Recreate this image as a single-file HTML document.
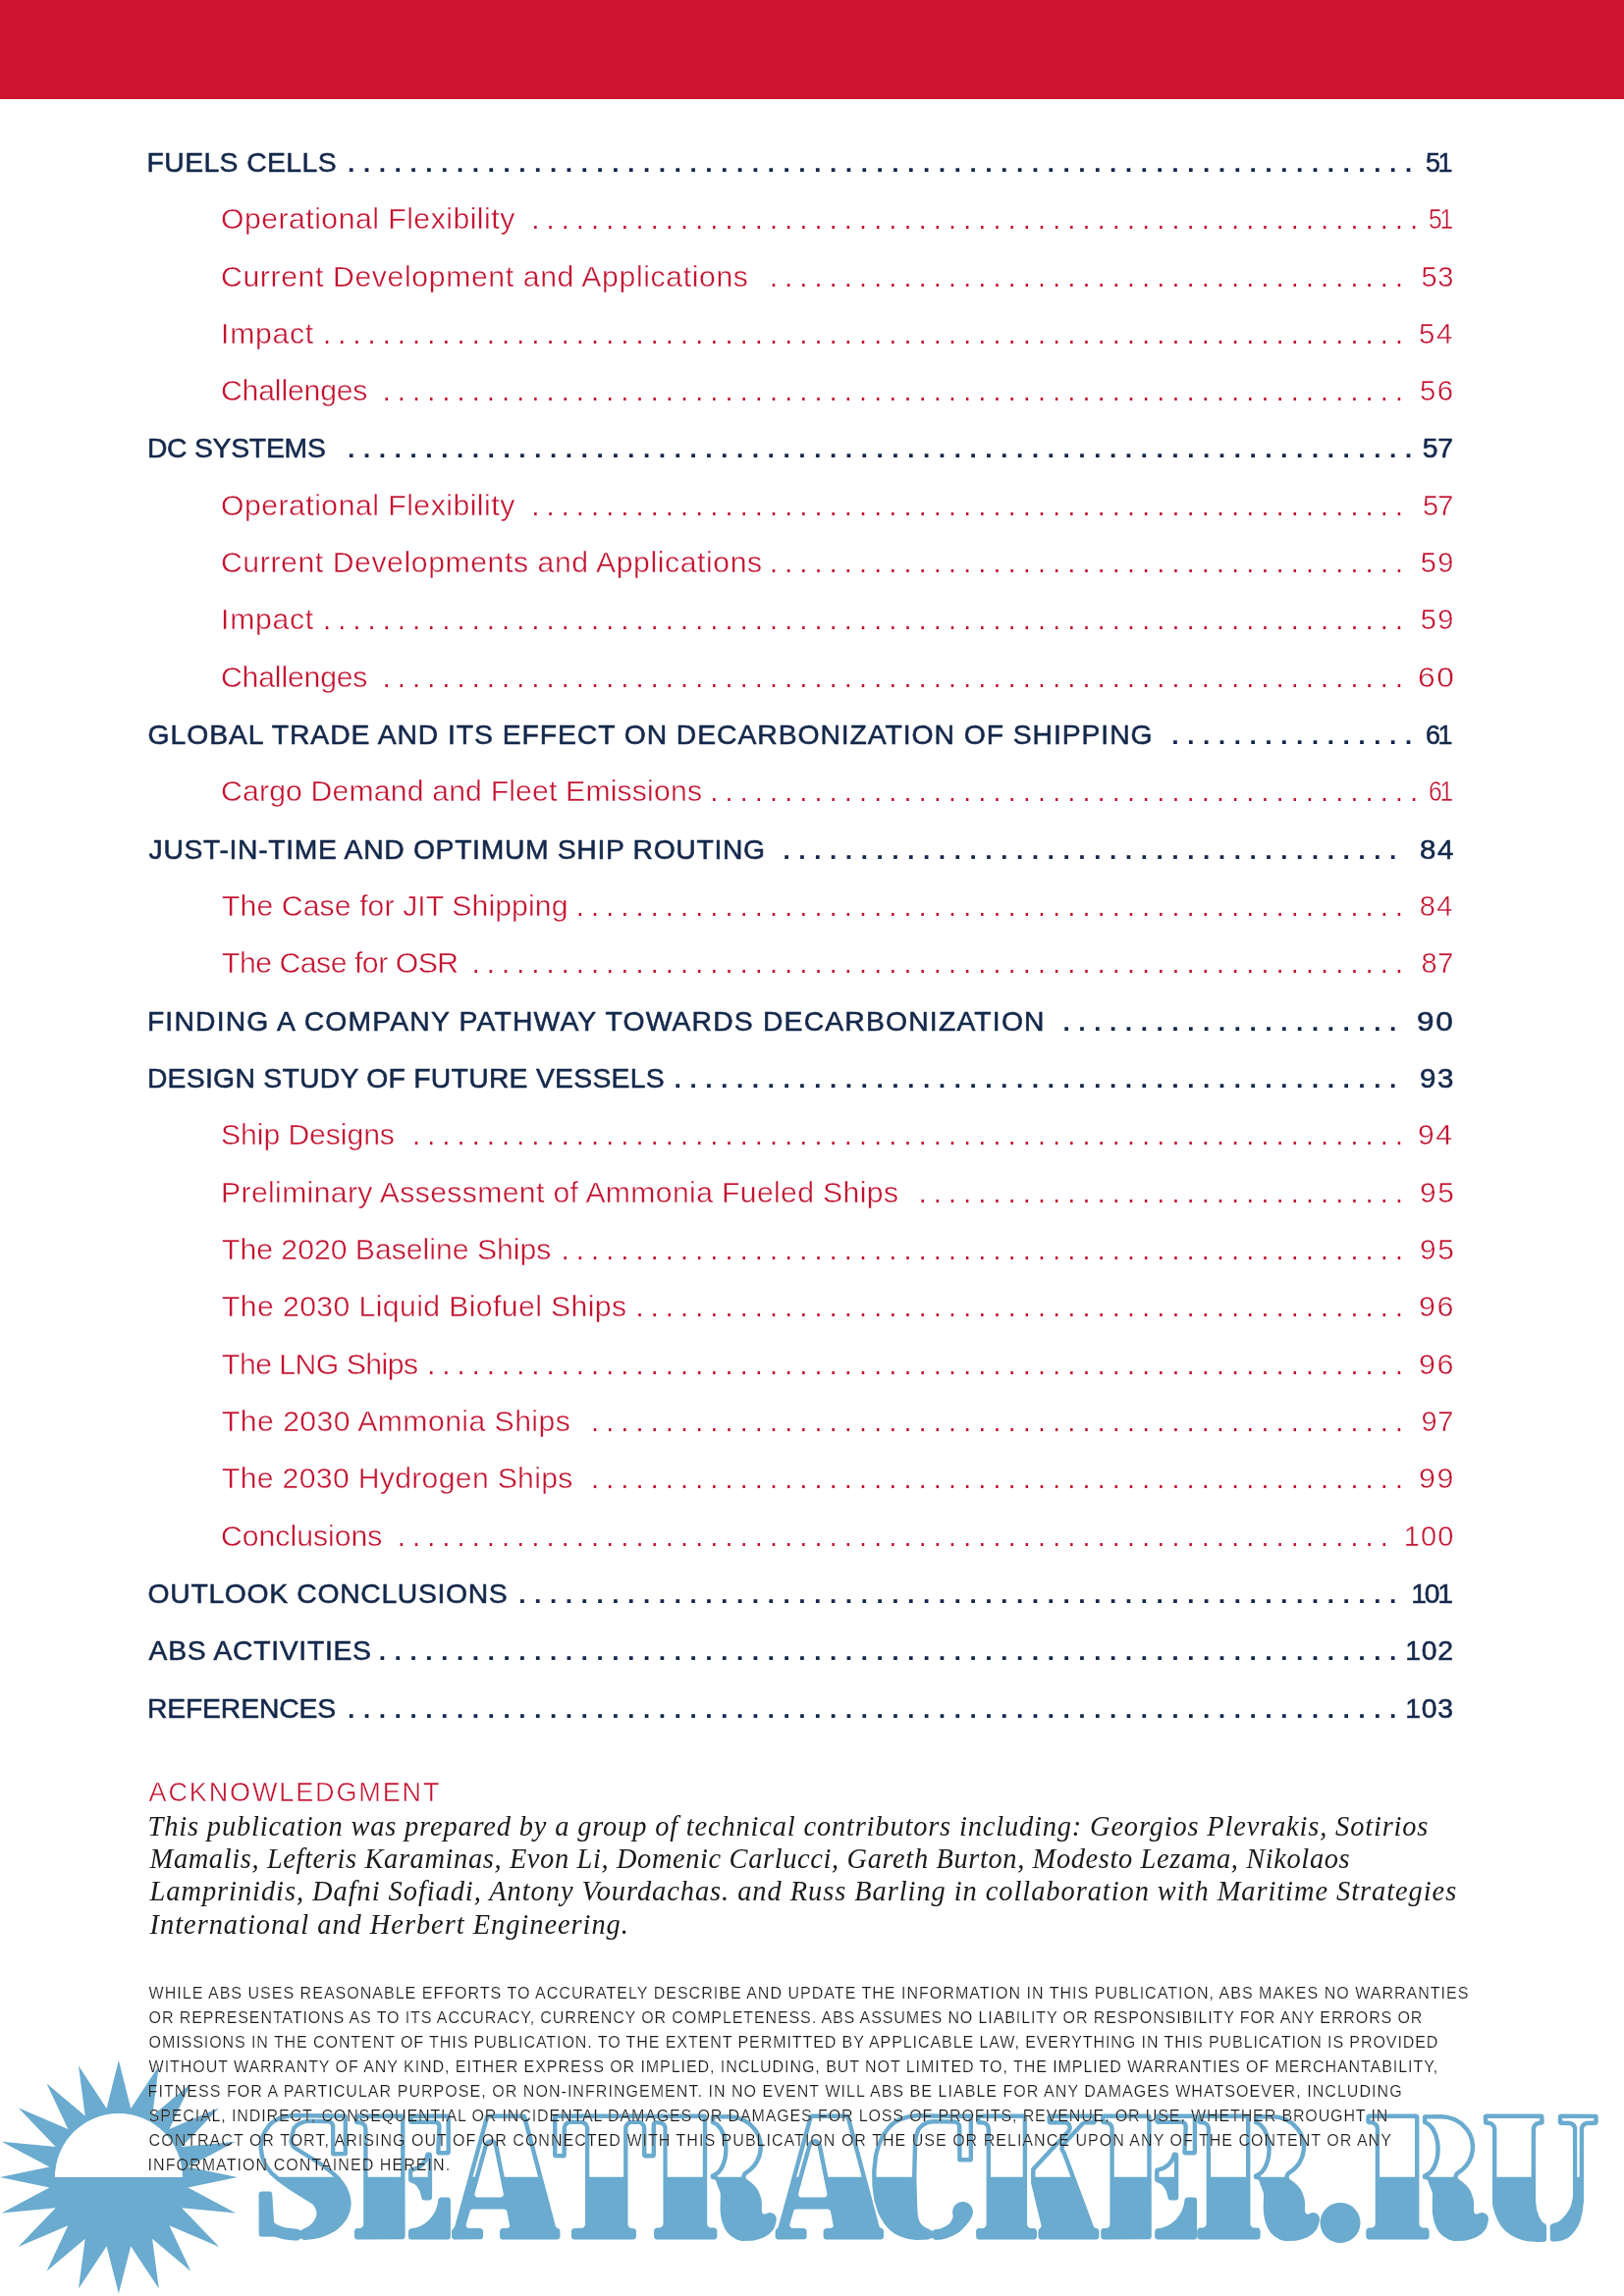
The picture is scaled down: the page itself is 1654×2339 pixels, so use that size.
<!DOCTYPE html>
<html><head><meta charset="utf-8"><title>Contents</title>
<style>
html,body{margin:0;padding:0;background:#fff;}
body{width:1654px;height:2339px;position:relative;overflow:hidden;font-family:"Liberation Sans",sans-serif;}
.bar{position:absolute;left:0;top:0;width:1654px;height:100.6px;background:#cd1430;}
.t{position:absolute;white-space:nowrap;transform-origin:0 0;font-size:29.0px;line-height:29.0px;}
.h{color:#14284b;-webkit-text-stroke:0.55px #14284b;font-size:28.3px;line-height:28.3px;}
.s{color:#c41230;-webkit-text-stroke:0.4px #fff;}
.ah{color:#c41230;-webkit-text-stroke:0.45px #fff;font-size:27.0px;line-height:27.0px;}
.ak{color:#1a1a1a;font-family:"Liberation Serif",serif;font-style:italic;font-size:28.4px;line-height:28.4px;}
.dc{color:#1a1a1a;-webkit-text-stroke:0.18px #fff;font-size:16.0px;line-height:16.0px;}
svg{position:absolute;left:0;top:0;}
.txt{position:absolute;left:0;top:0;width:1654px;height:2339px;will-change:transform;}
</style></head><body>
<div class="bar"></div>
<svg width="1654" height="2339" viewBox="0 0 1654 2339">
<polygon points="241.8,2218.1 191.4,2207.6 240.1,2181.7 185.1,2187.0 223.2,2147.3 172.5,2168.9 194.3,2122.4 155.1,2155.5 161.8,2104.6 133.2,2147.9 120.9,2098.8 108.6,2147.9 80.0,2104.6 86.7,2155.5 47.5,2122.4 69.3,2168.9 18.6,2147.3 56.7,2187.0 1.7,2181.7 50.4,2207.6 0.0,2218.1 50.4,2228.6 1.7,2254.5 56.7,2249.2 18.6,2288.9 69.3,2267.3 47.5,2313.8 86.7,2280.7 80.0,2331.6 108.6,2288.3 120.9,2336.5 133.2,2288.3 161.8,2331.6 155.1,2280.7 194.3,2313.8 172.5,2267.3 223.2,2288.9 185.1,2249.2 240.1,2254.5 191.4,2228.6" fill="#6aabcf"/><path d="M55.9,2218.0 A65,65 0 0 1 185.9,2218.0 Z" fill="#fff"/>
<path d="M416.0,2161.8 417.0,2163.3 418.7,2164.0 443.1,2164.0 444.3,2164.4 445.1,2165.2 445.3,2166.3 444.1,2192.3 444.3,2193.8 445.4,2195.0 447.0,2195.5 456.2,2195.5 458.3,2194.4 458.9,2192.5 458.9,2156.5 458.6,2155.1 457.8,2154.1 455.9,2153.5 418.4,2153.5 416.8,2154.3 416.0,2155.7ZM439.6,2193.8 438.7,2193.0 437.4,2192.5 435.6,2192.6 434.4,2193.0 433.4,2194.3 432.6,2197.2 431.3,2200.0 428.3,2203.8 423.4,2206.9 417.5,2208.7 416.5,2209.5 415.9,2210.8 415.9,2220.4 416.2,2221.7 417.4,2222.9 422.2,2225.1 425.0,2227.8 427.8,2232.8 429.6,2239.9 430.5,2241.0 431.7,2241.5 437.9,2241.4 439.4,2240.4 440.1,2239.0 440.1,2195.5ZM934.2,2248.2 933.4,2217.5 934.2,2184.6 935.1,2176.6 937.1,2170.8 938.6,2168.8 940.7,2166.9 943.6,2165.1 946.8,2163.9 950.4,2163.5 961.3,2163.5 972.1,2163.7 973.5,2164.1 974.7,2165.3 975.0,2166.7 975.2,2200.9 976.0,2202.0 977.2,2202.5 989.3,2202.4 990.5,2201.4 991.0,2200.0 991.0,2156.0 990.7,2154.8 989.7,2153.8 988.5,2153.5 958.0,2153.5 933.5,2153.0 924.7,2154.2 915.5,2157.1 909.8,2160.4 906.7,2162.8 903.3,2166.2 897.7,2173.9 893.3,2183.4 890.8,2191.4 889.7,2196.7 888.1,2211.9 888.4,2227.3 890.4,2242.1 893.8,2253.0 895.7,2257.3 900.0,2264.6 903.3,2268.8 906.8,2272.3 910.7,2275.2 915.4,2277.8 921.6,2280.1 927.0,2281.3 933.4,2281.9 945.1,2281.6 947.8,2280.3 949.0,2280.1 950.1,2280.3 952.6,2281.9 959.1,2281.4 964.8,2279.9 970.2,2277.8 975.3,2275.1 978.2,2273.0 982.5,2268.6 987.0,2263.3 990.0,2258.0 990.9,2254.8 990.9,2252.1 990.2,2249.4 988.8,2247.1 986.8,2245.1 984.5,2243.8 981.8,2243.1 979.1,2243.1 976.4,2243.8 973.0,2246.1 970.8,2249.4 970.0,2253.4 970.7,2258.5 969.1,2262.3 967.3,2265.0 964.4,2267.2 960.5,2269.3 956.6,2270.7 952.3,2271.3 950.3,2272.5 948.9,2272.6 947.6,2272.0 946.2,2270.8 943.1,2269.6 940.6,2268.0 938.5,2266.1 937.1,2264.2 935.9,2261.5 934.8,2256.7ZM368.4,2165.2 369.7,2166.6 370.2,2168.5 370.2,2266.4 369.5,2268.2 368.1,2269.5 366.6,2270.0 363.1,2270.1 361.5,2271.3 360.9,2273.0 361.1,2279.6 362.2,2280.9 363.9,2281.5 410.7,2281.3 412.0,2280.2 412.6,2278.5 412.4,2155.4 411.3,2154.1 409.6,2153.5 363.9,2153.5 362.6,2153.8 361.5,2154.7 360.9,2156.0 360.9,2161.5 361.2,2162.8 362.9,2164.3 367.0,2164.6ZM462.3,2269.8 460.6,2271.2 460.0,2272.9 460.1,2279.2 460.6,2280.3 461.8,2281.2 463.0,2281.5 490.1,2281.3 491.4,2280.3 492.0,2278.7 492.0,2272.6 491.0,2270.7 489.2,2270.0 477.1,2269.9 475.8,2269.3 474.8,2267.9 474.7,2266.2 479.0,2251.6 480.2,2250.7 481.4,2250.5 513.7,2250.5 515.3,2251.2 516.3,2252.6 519.1,2267.3 518.5,2268.9 517.3,2269.8 511.3,2270.1 509.5,2271.4 509.0,2272.8 509.0,2278.9 509.5,2280.2 510.7,2281.2 512.0,2281.5 567.5,2281.5 569.0,2281.1 570.0,2280.1 570.5,2278.5 570.4,2272.2 569.3,2270.6 566.6,2269.2 565.9,2267.9 536.2,2155.8 534.9,2154.0 533.3,2153.5 496.8,2153.5 495.3,2153.9 494.2,2155.0 463.1,2268.5ZM485.0,2238.2 483.6,2236.7 483.5,2234.7 497.1,2185.5 498.5,2183.7 500.8,2183.5 502.3,2184.4 502.9,2185.7 512.8,2234.9 512.7,2236.4 511.7,2237.8 510.1,2238.5 486.4,2238.5ZM577.5,2166.1 578.8,2164.7 580.6,2164.0 592.4,2164.0 594.8,2165.2 596.0,2167.6 596.0,2266.4 595.1,2268.5 593.2,2269.8 584.6,2270.0 582.7,2271.0 582.0,2272.6 582.0,2278.5 582.3,2279.8 583.2,2280.9 585.0,2281.5 645.0,2281.5 646.6,2281.0 647.7,2279.8 648.0,2278.5 648.0,2273.0 647.6,2271.5 646.0,2270.2 642.7,2269.9 641.3,2269.3 640.0,2267.9 639.5,2266.0 639.5,2168.0 639.8,2166.5 640.7,2165.2 642.0,2164.3 643.5,2164.0 650.8,2164.1 652.5,2164.9 653.7,2166.5 654.0,2168.0 654.0,2195.7 654.8,2197.5 656.6,2198.5 665.4,2198.5 666.6,2198.0 667.5,2197.1 668.0,2195.5 668.0,2164.3 673.0,2164.8 674.6,2166.0 675.4,2167.7 675.5,2265.9 674.8,2267.7 673.4,2269.0 671.9,2269.5 668.3,2269.6 666.6,2270.9 666.1,2272.3 666.1,2278.5 666.7,2280.3 667.8,2281.2 669.1,2281.5 727.4,2281.5 728.7,2281.2 729.8,2280.3 730.4,2278.5 730.4,2272.3 729.9,2270.9 728.1,2269.6 723.8,2269.5 722.3,2269.0 720.9,2267.7 720.2,2265.9 720.2,2156.5 719.9,2155.2 719.0,2154.1 717.2,2153.5 669.1,2153.5 667.0,2154.3 665.0,2153.5 565.2,2153.6 563.6,2154.7 563.0,2156.5 563.0,2195.5 563.6,2197.2 564.9,2198.3 574.4,2198.5 575.8,2197.9 576.8,2196.6 577.0,2168.0ZM791.9,2269.8 790.2,2271.2 789.6,2272.9 789.7,2279.2 790.2,2280.3 791.4,2281.2 792.6,2281.5 819.7,2281.3 821.0,2280.3 821.6,2278.7 821.6,2272.6 820.6,2270.7 818.8,2270.0 806.7,2269.9 805.4,2269.3 804.4,2267.9 804.3,2266.2 808.6,2251.6 809.8,2250.7 811.0,2250.5 843.3,2250.5 844.9,2251.2 845.9,2252.6 848.7,2267.3 848.1,2268.9 846.9,2269.8 840.9,2270.1 839.1,2271.4 838.6,2272.8 838.6,2278.9 839.1,2280.2 840.3,2281.2 841.6,2281.5 897.1,2281.5 898.6,2281.1 899.6,2280.1 900.1,2278.5 900.0,2272.2 898.9,2270.6 896.2,2269.2 895.5,2267.9 865.8,2155.8 864.5,2154.0 862.9,2153.5 826.4,2153.5 824.9,2153.9 823.8,2155.0 792.7,2268.5ZM814.6,2238.2 813.2,2236.7 813.1,2234.7 826.7,2185.5 828.1,2183.7 830.4,2183.5 831.9,2184.4 832.5,2185.7 842.4,2234.9 842.3,2236.4 841.3,2237.8 839.7,2238.5 816.0,2238.5ZM1002.8,2165.2 1004.1,2166.6 1004.6,2168.5 1004.6,2266.4 1003.9,2268.2 1002.5,2269.5 1001.0,2270.0 996.3,2270.1 994.6,2271.2 994.0,2273.0 994.3,2279.7 995.4,2281.0 997.0,2281.5 1053.0,2281.5 1054.2,2281.2 1055.4,2280.3 1056.0,2278.9 1056.0,2272.8 1055.6,2271.5 1053.8,2270.1 1049.7,2270.0 1048.2,2269.5 1046.8,2268.2 1046.1,2266.4 1046.1,2156.5 1045.8,2155.3 1044.7,2154.0 1043.1,2153.5 997.0,2153.5 995.3,2154.1 994.4,2155.0 994.0,2156.3 994.0,2161.7 994.6,2163.2 996.3,2164.4 1001.0,2164.5ZM280.4,2278.7 288.9,2281.2 294.3,2282.1 300.2,2282.5 303.3,2282.4 306.3,2280.6 307.7,2280.8 309.4,2281.9 310.6,2282.1 319.2,2281.1 324.9,2279.9 333.3,2277.1 342.0,2272.5 348.2,2267.1 352.9,2260.9 355.0,2256.8 356.6,2252.3 357.6,2246.8 357.5,2242.1 356.5,2236.2 355.3,2232.7 353.3,2228.1 350.6,2223.7 345.9,2217.5 338.8,2210.9 327.8,2202.7 301.6,2186.4 299.9,2184.5 298.7,2181.3 301.1,2169.5 303.1,2167.2 306.3,2165.2 309.8,2163.7 313.3,2163.1 334.7,2163.3 336.2,2164.2 337.0,2166.0 337.0,2194.0 337.3,2195.2 338.2,2196.1 339.3,2196.5 352.6,2196.2 353.6,2195.3 354.0,2194.0 354.0,2156.0 353.7,2154.8 352.7,2153.8 351.5,2153.5 312.8,2153.0 297.8,2153.1 292.1,2153.7 284.8,2155.6 278.2,2158.9 275.1,2161.3 272.3,2164.1 267.9,2170.4 265.9,2174.6 264.3,2179.8 263.6,2184.3 263.6,2189.1 264.6,2196.2 266.0,2201.0 268.1,2205.8 270.8,2210.3 275.2,2215.6 282.2,2221.7 294.3,2230.4 318.4,2245.6 320.7,2248.4 322.3,2252.9 322.4,2255.8 322.0,2257.9 320.2,2261.8 318.3,2264.5 314.5,2267.9 309.3,2270.4 307.1,2272.0 305.4,2272.1 302.8,2270.8 291.3,2269.4 285.2,2267.7 280.3,2265.2 279.1,2263.4 277.2,2234.9 276.8,2233.7 275.9,2232.8 274.8,2232.5 266.1,2232.5 264.8,2232.9 263.9,2233.8 263.6,2235.0 263.7,2276.8 264.5,2277.9 265.8,2278.5ZM723.7,2162.6 724.7,2164.0 727.4,2165.1 729.3,2166.5 732.3,2169.9 735.2,2176.3 736.8,2183.2 737.2,2189.3 736.9,2194.2 736.2,2199.0 734.5,2204.3 732.7,2208.0 730.1,2211.5 728.1,2213.1 724.2,2215.1 723.7,2216.1 723.6,2217.8 723.9,2218.9 724.7,2219.8 728.0,2220.5 729.3,2221.7 730.3,2225.2 733.4,2232.9 733.8,2235.8 733.5,2249.6 733.7,2254.4 735.2,2262.6 737.7,2269.6 740.9,2274.4 744.6,2278.1 750.2,2281.5 755.3,2282.9 766.6,2282.8 772.7,2281.3 778.6,2279.0 783.6,2275.8 787.5,2271.5 788.7,2269.2 790.0,2265.0 790.8,2261.0 790.5,2258.5 788.8,2255.8 786.0,2254.2 783.1,2254.1 778.9,2255.7 777.4,2255.3 776.5,2254.6 775.8,2252.3 775.9,2244.2 775.2,2239.5 772.7,2232.5 771.3,2230.0 768.4,2226.4 764.3,2222.7 760.4,2220.1 759.4,2218.0 760.2,2215.9 765.8,2211.7 770.3,2206.9 773.0,2202.7 775.5,2196.9 776.8,2190.5 777.0,2185.5 776.0,2179.1 773.8,2173.1 770.2,2167.4 764.4,2161.6 757.4,2157.3 749.5,2154.8 742.8,2154.1 725.4,2154.2 724.3,2154.9 723.7,2156.0ZM417.7,2270.6 416.6,2271.4 416.0,2272.7 415.9,2278.5 416.5,2280.4 418.1,2281.4 455.9,2281.5 457.8,2280.9 458.6,2279.9 458.9,2278.5 458.9,2241.5 458.3,2239.6 457.3,2238.8 455.9,2238.5 449.0,2238.5 447.4,2239.2 446.4,2240.6 445.5,2246.3 443.5,2252.2 441.2,2256.3 437.5,2261.1 432.9,2265.1 428.9,2267.5 423.4,2269.5ZM1176.2,2161.8 1177.2,2163.3 1178.9,2164.0 1203.3,2164.0 1204.5,2164.4 1205.3,2165.2 1205.5,2166.3 1204.3,2192.3 1204.5,2193.8 1205.6,2195.0 1207.2,2195.5 1216.4,2195.5 1218.5,2194.4 1219.1,2192.5 1219.1,2156.5 1218.8,2155.1 1218.0,2154.1 1216.1,2153.5 1178.6,2153.5 1177.0,2154.3 1176.2,2155.7ZM1199.8,2193.8 1198.9,2193.0 1197.6,2192.5 1195.8,2192.6 1194.6,2193.0 1193.6,2194.3 1192.8,2197.2 1191.5,2200.0 1188.5,2203.8 1183.6,2206.9 1177.7,2208.7 1176.7,2209.5 1176.1,2210.8 1176.1,2220.4 1176.4,2221.7 1177.6,2222.9 1182.4,2225.1 1185.2,2227.8 1188.0,2232.8 1189.8,2239.9 1190.7,2241.0 1191.9,2241.5 1198.1,2241.4 1199.6,2240.4 1200.3,2239.0 1200.3,2195.5ZM1060.4,2268.8 1057.9,2271.3 1057.4,2273.0 1057.5,2279.3 1058.4,2280.8 1059.9,2281.5 1116.5,2281.5 1118.1,2281.0 1119.2,2279.8 1119.5,2278.5 1119.3,2271.9 1118.1,2270.5 1115.1,2269.6 1113.9,2268.3 1085.6,2191.9 1083.9,2189.7 1083.5,2188.3 1084.3,2186.2 1104.1,2165.1 1105.5,2164.5 1114.4,2164.5 1116.2,2163.6 1117.0,2161.9 1117.0,2156.3 1116.5,2154.9 1115.3,2153.8 1114.0,2153.5 1069.5,2153.5 1067.9,2154.0 1066.8,2155.2 1066.5,2156.5 1066.5,2161.9 1067.0,2163.1 1067.9,2164.0 1069.5,2164.5 1085.2,2164.6 1086.9,2165.6 1087.6,2167.7 1086.8,2169.5 1050.8,2208.3 1050.1,2209.6 1050.0,2223.7 1060.5,2267.0ZM1128.6,2165.2 1129.9,2166.6 1130.4,2168.5 1130.4,2266.4 1129.7,2268.2 1128.3,2269.5 1126.8,2270.0 1123.3,2270.1 1121.7,2271.3 1121.1,2273.0 1121.3,2279.6 1122.4,2280.9 1124.1,2281.5 1170.9,2281.3 1172.2,2280.2 1172.8,2278.5 1172.6,2155.4 1171.5,2154.1 1169.8,2153.5 1124.1,2153.5 1122.8,2153.8 1121.7,2154.7 1121.1,2156.0 1121.1,2161.5 1121.4,2162.8 1123.1,2164.3 1127.2,2164.6ZM1226.9,2165.2 1228.2,2166.6 1228.7,2168.5 1228.7,2265.9 1228.0,2267.7 1226.6,2269.0 1225.1,2269.5 1221.5,2269.6 1219.8,2270.9 1219.3,2272.5 1219.3,2278.5 1219.6,2279.8 1220.7,2281.0 1222.3,2281.5 1280.6,2281.5 1281.9,2281.2 1283.0,2280.2 1283.6,2278.9 1283.6,2272.5 1283.2,2271.0 1281.4,2269.6 1277.0,2269.5 1275.5,2269.0 1274.1,2267.7 1273.4,2265.9 1273.4,2156.5 1273.1,2155.2 1272.0,2154.0 1270.4,2153.5 1222.3,2153.5 1221.0,2153.8 1219.9,2154.7 1219.3,2156.0 1219.3,2161.5 1219.6,2162.8 1221.3,2164.3 1225.5,2164.6ZM1398.9,2165.2 1400.2,2166.6 1400.7,2168.5 1400.7,2265.9 1400.0,2267.7 1398.6,2269.0 1397.1,2269.5 1393.5,2269.6 1391.8,2270.9 1391.3,2272.5 1391.3,2278.5 1391.6,2279.8 1392.7,2281.0 1394.3,2281.5 1452.6,2281.5 1453.9,2281.2 1455.0,2280.2 1455.6,2278.9 1455.6,2272.5 1455.2,2271.0 1453.4,2269.6 1449.0,2269.5 1447.5,2269.0 1446.1,2267.7 1445.4,2265.9 1445.4,2156.5 1445.1,2155.2 1444.0,2154.0 1442.4,2153.5 1394.3,2153.5 1393.0,2153.8 1391.9,2154.7 1391.3,2156.0 1391.3,2161.5 1391.6,2162.8 1393.3,2164.3 1397.5,2164.6ZM1276.9,2162.5 1277.8,2163.9 1280.6,2165.1 1282.5,2166.5 1285.5,2169.9 1288.4,2176.3 1290.0,2183.2 1290.4,2189.3 1290.1,2194.2 1289.4,2199.0 1287.7,2204.3 1285.9,2208.0 1283.3,2211.5 1281.3,2213.1 1277.4,2215.1 1276.9,2216.1 1276.8,2217.8 1277.1,2218.9 1277.9,2219.8 1281.2,2220.5 1282.5,2221.7 1283.5,2225.2 1286.6,2232.9 1287.0,2235.8 1286.7,2249.6 1286.9,2254.4 1288.4,2262.6 1290.9,2269.6 1294.1,2274.4 1297.8,2278.1 1303.4,2281.5 1308.5,2282.9 1319.8,2282.8 1325.9,2281.3 1331.8,2279.0 1336.8,2275.8 1340.7,2271.5 1341.9,2269.2 1343.2,2265.0 1344.0,2261.0 1343.7,2258.5 1342.0,2255.8 1339.2,2254.2 1336.3,2254.1 1332.1,2255.7 1330.9,2255.4 1329.7,2254.6 1329.0,2252.3 1329.1,2244.2 1328.4,2239.5 1325.9,2232.5 1324.5,2230.0 1321.6,2226.4 1317.5,2222.7 1313.6,2220.1 1312.6,2218.0 1313.4,2215.9 1319.0,2211.7 1323.5,2206.9 1326.2,2202.7 1328.7,2196.9 1330.0,2190.5 1330.2,2185.5 1329.2,2179.1 1327.0,2173.1 1323.4,2167.4 1317.6,2161.6 1310.6,2157.3 1302.7,2154.8 1296.0,2154.1 1278.6,2154.2 1277.5,2154.9 1276.9,2156.0ZM1448.9,2162.6 1449.9,2164.0 1452.6,2165.1 1454.5,2166.5 1457.5,2169.9 1460.4,2176.3 1462.0,2183.2 1462.4,2189.3 1462.1,2194.2 1461.4,2199.0 1459.7,2204.3 1457.9,2208.0 1455.3,2211.5 1453.3,2213.1 1449.4,2215.1 1448.9,2216.1 1448.8,2217.8 1449.1,2218.9 1449.9,2219.8 1453.2,2220.5 1454.5,2221.7 1455.5,2225.2 1458.6,2232.9 1459.0,2235.8 1458.7,2249.6 1458.9,2254.4 1460.4,2262.6 1462.9,2269.6 1466.1,2274.4 1469.8,2278.1 1475.4,2281.5 1480.5,2282.9 1491.8,2282.8 1497.9,2281.3 1503.8,2279.0 1508.8,2275.8 1512.7,2271.5 1513.9,2269.2 1515.2,2265.0 1516.0,2261.0 1515.7,2258.5 1514.0,2255.8 1511.2,2254.2 1508.3,2254.1 1504.1,2255.7 1502.9,2255.4 1501.7,2254.6 1501.0,2252.3 1501.1,2244.2 1500.4,2239.5 1497.9,2232.5 1496.5,2230.0 1493.6,2226.4 1489.5,2222.7 1485.6,2220.1 1484.6,2218.0 1485.4,2215.9 1491.0,2211.7 1495.5,2206.9 1498.2,2202.7 1500.7,2196.9 1502.0,2190.5 1502.2,2185.5 1501.2,2179.1 1499.0,2173.1 1495.4,2167.4 1489.6,2161.6 1482.6,2157.3 1474.7,2154.8 1468.0,2154.1 1450.6,2154.2 1449.5,2154.9 1448.9,2156.0ZM1578.8,2281.5 1579.5,2282.8 1580.7,2283.6 1584.3,2283.6 1588.7,2283.0 1592.2,2282.1 1596.8,2279.9 1600.4,2277.0 1604.2,2272.6 1607.4,2267.3 1609.5,2262.4 1611.8,2252.8 1613.0,2242.3 1613.1,2168.2 1614.2,2166.2 1615.8,2165.2 1625.1,2165.0 1627.0,2164.0 1627.7,2162.2 1627.7,2156.1 1627.1,2154.7 1625.8,2153.7 1589.7,2153.5 1588.0,2154.1 1586.9,2155.4 1586.7,2162.2 1587.7,2164.3 1589.5,2165.0 1599.2,2165.2 1600.8,2166.2 1601.9,2168.2 1602.0,2237.9 1600.5,2245.1 1599.3,2248.7 1597.5,2252.1 1594.6,2256.3 1590.7,2260.5 1588.1,2262.7 1585.7,2264.0 1580.5,2265.5 1579.0,2266.9 1578.7,2268.2ZM1517.9,2165.5 1519.5,2167.1 1520.0,2169.0 1520.0,2244.9 1520.7,2249.1 1522.7,2255.7 1525.6,2262.6 1528.9,2267.9 1533.0,2272.4 1538.1,2276.4 1544.6,2280.0 1550.2,2282.0 1556.0,2283.3 1566.0,2284.1 1573.4,2283.8 1574.5,2282.8 1575.1,2281.5 1575.0,2267.2 1574.2,2265.7 1571.4,2263.9 1570.1,2262.6 1567.2,2257.4 1565.2,2251.2 1564.0,2242.0 1564.0,2168.6 1564.5,2167.1 1565.8,2165.7 1567.2,2165.1 1570.7,2164.8 1572.2,2163.6 1572.7,2162.0 1572.4,2155.3 1571.3,2154.0 1569.7,2153.5 1513.7,2153.5 1512.5,2153.8 1511.3,2154.7 1510.7,2156.0 1511.0,2163.2 1512.7,2164.8 1516.4,2165.0ZM1177.9,2270.6 1176.8,2271.4 1176.2,2272.7 1176.1,2278.5 1176.7,2280.4 1178.3,2281.4 1216.1,2281.5 1218.0,2280.9 1218.8,2279.9 1219.1,2278.5 1219.1,2241.5 1218.5,2239.6 1217.5,2238.8 1216.1,2238.5 1209.2,2238.5 1207.6,2239.2 1206.6,2240.6 1205.7,2246.3 1203.7,2252.2 1201.4,2256.3 1197.7,2261.1 1193.1,2265.1 1189.1,2267.5 1183.6,2269.5ZM1384.4,2257.8 1382.8,2254.2 1380.4,2250.9 1377.5,2248.1 1374.1,2246.0 1370.3,2244.6 1366.3,2243.9 1362.3,2244.1 1358.4,2245.0 1354.8,2246.6 1351.5,2249.0 1348.7,2251.9 1346.6,2255.3 1345.2,2259.1 1344.5,2263.1 1344.7,2267.1 1345.6,2271.0 1347.2,2274.7 1349.6,2277.9 1352.5,2280.7 1355.9,2282.8 1359.7,2284.2 1363.7,2284.9 1367.7,2284.7 1371.6,2283.8 1375.2,2282.2 1378.5,2279.8 1381.3,2276.9 1383.4,2273.5 1384.8,2269.7 1385.5,2265.7 1385.3,2261.7Z" fill="#6aabcf"/>
<path d="M1608.7,2167.7 1610.3,2164.1 1611.9,2162.4 1615.2,2160.8 1623.3,2160.6 1623.3,2158.1 1591.2,2157.9 1591.2,2160.6 1599.8,2160.8 1603.1,2162.4 1604.4,2163.6 1606.2,2167.1 1606.3,2217.8 1608.6,2217.8ZM1515.3,2160.6 1517.7,2160.8 1520.6,2162.0 1523.4,2164.9 1524.4,2168.5 1524.4,2217.8 1559.6,2217.8 1559.7,2168.0 1560.8,2164.7 1563.0,2162.3 1566.2,2160.8 1568.2,2160.6 1568.1,2157.9 1515.2,2157.9ZM1456.6,2217.8 1480.4,2217.8 1480.5,2216.5 1482.0,2213.0 1488.1,2208.4 1492.0,2204.2 1494.3,2200.7 1496.5,2195.5 1497.6,2190.0 1497.7,2185.8 1496.9,2180.2 1495.0,2175.1 1491.9,2170.2 1486.9,2165.0 1480.7,2161.3 1473.9,2159.1 1467.8,2158.5 1453.3,2158.6 1453.3,2160.6 1457.5,2163.2 1461.2,2167.5 1464.4,2174.4 1466.3,2182.3 1466.8,2189.0 1466.5,2194.4 1465.7,2199.7 1463.7,2206.2 1461.4,2210.7 1458.4,2214.5 1455.6,2216.8ZM1441.0,2157.9 1395.7,2157.9 1395.7,2160.1 1398.7,2160.3 1402.2,2162.2 1404.1,2164.5 1405.1,2168.0 1405.1,2217.8 1441.0,2217.8ZM1284.6,2217.8 1308.4,2217.8 1308.5,2216.5 1310.0,2213.0 1316.1,2208.4 1320.0,2204.2 1322.3,2200.7 1324.5,2195.5 1325.6,2190.0 1325.7,2185.8 1324.9,2180.2 1323.0,2175.1 1319.9,2170.2 1314.9,2165.0 1308.7,2161.3 1301.9,2159.1 1295.8,2158.5 1281.3,2158.6 1281.3,2160.6 1285.5,2163.2 1289.2,2167.5 1292.4,2174.4 1294.3,2182.3 1294.8,2189.0 1294.5,2194.4 1293.7,2199.7 1291.7,2206.2 1289.4,2210.7 1286.4,2214.5 1283.6,2216.8ZM1269.0,2157.9 1223.7,2157.9 1223.7,2160.1 1226.7,2160.3 1230.2,2162.2 1232.1,2164.5 1233.1,2168.0 1233.1,2217.8 1269.0,2217.8ZM1180.6,2159.6 1203.3,2159.6 1205.9,2160.2 1207.5,2161.1 1209.2,2163.3 1209.9,2166.0 1208.7,2191.1 1214.7,2191.1 1214.7,2157.9 1180.6,2157.9ZM1195.9,2201.1 1195.0,2202.8 1190.9,2207.5 1185.5,2210.9 1180.5,2212.4 1180.5,2217.8 1195.9,2217.8ZM1128.4,2160.4 1131.4,2161.8 1133.8,2164.5 1134.8,2168.5 1134.8,2217.8 1168.3,2217.8 1168.2,2157.9 1125.5,2157.9 1125.5,2160.1ZM1054.5,2217.8 1090.5,2217.8 1081.7,2194.1 1079.9,2191.4 1079.2,2188.4 1080.2,2184.7 1081.1,2183.2 1101.2,2161.7 1105.0,2160.1 1112.6,2160.1 1112.6,2157.9 1070.9,2157.9 1070.9,2160.1 1085.2,2160.2 1087.4,2160.8 1089.6,2162.1 1090.9,2163.7 1091.9,2166.9 1091.8,2169.0 1090.0,2172.5 1054.5,2210.8ZM998.4,2160.1 1002.5,2160.4 1004.8,2161.2 1006.1,2162.2 1008.0,2164.5 1009.0,2168.5 1009.0,2217.8 1041.7,2217.8 1041.7,2157.9 998.4,2157.9ZM929.0,2217.4 929.8,2184.5 930.8,2175.6 933.5,2168.3 935.3,2165.9 938.4,2163.1 941.7,2161.1 945.8,2159.6 950.4,2159.1 972.2,2159.3 975.7,2160.3 978.5,2163.2 979.4,2166.2 979.6,2198.1 986.6,2198.0 986.6,2157.9 958.0,2157.9 933.7,2157.4 925.7,2158.5 917.3,2161.2 912.2,2164.1 906.7,2169.1 901.6,2176.1 897.4,2185.0 895.1,2192.5 894.0,2197.4 892.5,2212.1 892.6,2217.8 929.0,2217.8ZM861.8,2157.9 827.6,2157.9 811.1,2217.8 813.2,2217.8 822.5,2184.4 823.3,2182.8 826.0,2179.9 830.0,2179.1 831.8,2179.3 835.2,2181.5 836.9,2184.9 843.4,2217.8 877.7,2217.8ZM731.4,2217.8 755.2,2217.8 755.3,2216.5 756.8,2213.0 762.9,2208.4 766.8,2204.2 769.1,2200.7 771.3,2195.5 772.4,2190.0 772.5,2185.8 771.7,2180.2 769.8,2175.1 766.7,2170.2 761.7,2165.0 755.5,2161.3 748.7,2159.1 742.6,2158.5 728.1,2158.6 728.1,2160.6 732.3,2163.2 736.0,2167.5 739.2,2174.4 741.1,2182.3 741.6,2189.0 741.3,2194.4 740.5,2199.7 738.5,2206.2 736.2,2210.7 733.2,2214.5 730.4,2216.8ZM567.4,2193.9 572.4,2194.0 572.6,2167.4 573.6,2164.0 575.9,2161.3 580.1,2159.6 593.7,2159.8 596.7,2161.2 598.1,2162.3 600.3,2167.0 600.3,2217.8 635.1,2217.8 635.1,2167.6 635.9,2164.5 637.8,2161.9 640.6,2160.1 643.5,2159.6 652.1,2159.9 655.3,2161.5 657.8,2165.0 658.4,2168.0 658.4,2194.1 663.6,2194.1 663.6,2164.3 664.5,2161.6 665.7,2160.5 667.3,2159.9 674.6,2160.7 678.0,2163.2 679.6,2166.4 679.7,2217.8 715.8,2217.8 715.8,2157.9 670.0,2157.9 667.0,2158.7 664.1,2157.9 567.4,2158.0ZM532.2,2157.9 498.0,2157.9 481.5,2217.8 483.6,2217.8 492.9,2184.4 493.7,2182.8 496.4,2179.9 500.4,2179.1 502.2,2179.3 505.6,2181.5 507.3,2184.9 513.8,2217.8 548.1,2217.8ZM420.4,2159.6 443.1,2159.6 445.7,2160.2 447.3,2161.1 449.0,2163.3 449.7,2166.0 448.5,2191.1 454.5,2191.1 454.5,2157.9 420.4,2157.9ZM435.7,2201.1 434.8,2202.8 430.7,2207.5 425.3,2210.9 420.3,2212.4 420.3,2217.8 435.7,2217.8ZM368.2,2160.4 371.2,2161.8 373.6,2164.5 374.6,2168.5 374.6,2217.8 408.1,2217.8 408.0,2157.9 365.3,2157.9 365.3,2160.1ZM336.0,2214.3 325.4,2206.3 299.3,2190.1 296.3,2187.0 294.5,2182.9 294.3,2181.1 297.0,2168.1 297.8,2166.6 300.7,2163.6 304.6,2161.2 309.0,2159.4 313.4,2158.7 334.7,2158.9 336.3,2159.2 339.6,2161.4 341.3,2165.3 341.4,2192.1 349.6,2191.9 349.6,2157.9 312.7,2157.4 298.1,2157.5 292.9,2158.0 286.4,2159.7 280.5,2162.6 278.0,2164.6 275.7,2166.9 271.7,2172.6 270.0,2176.2 268.6,2180.7 268.0,2184.7 268.0,2188.8 268.9,2195.2 270.1,2199.5 272.0,2203.8 274.4,2207.7 278.3,2212.5 284.3,2217.8 339.8,2217.8Z" fill="#fff"/>
<line x1="355.87" y1="173.15" x2="1436.35" y2="173.15" stroke="#14284b" stroke-width="3.7" stroke-dasharray="3.7 12.135"/>
<line x1="544.12" y1="231.45" x2="1441.35" y2="231.45" stroke="#c41230" stroke-width="3.1" stroke-dasharray="2.5 12.665"/>
<line x1="786.75" y1="290.45" x2="1426.18" y2="290.45" stroke="#c41230" stroke-width="3.1" stroke-dasharray="2.5 12.665"/>
<line x1="331.81" y1="348.45" x2="1426.18" y2="348.45" stroke="#c41230" stroke-width="3.1" stroke-dasharray="2.5 12.665"/>
<line x1="392.46" y1="406.45" x2="1426.18" y2="406.45" stroke="#c41230" stroke-width="3.1" stroke-dasharray="2.5 12.665"/>
<line x1="355.87" y1="464.15" x2="1436.35" y2="464.15" stroke="#14284b" stroke-width="3.7" stroke-dasharray="3.7 12.135"/>
<line x1="544.12" y1="523.45" x2="1426.18" y2="523.45" stroke="#c41230" stroke-width="3.1" stroke-dasharray="2.5 12.665"/>
<line x1="786.75" y1="581.45" x2="1426.18" y2="581.45" stroke="#c41230" stroke-width="3.1" stroke-dasharray="2.5 12.665"/>
<line x1="331.81" y1="639.45" x2="1426.18" y2="639.45" stroke="#c41230" stroke-width="3.1" stroke-dasharray="2.5 12.665"/>
<line x1="392.46" y1="698.45" x2="1426.18" y2="698.45" stroke="#c41230" stroke-width="3.1" stroke-dasharray="2.5 12.665"/>
<line x1="1195.12" y1="756.15" x2="1436.35" y2="756.15" stroke="#14284b" stroke-width="3.7" stroke-dasharray="3.7 12.135"/>
<line x1="726.09" y1="814.45" x2="1441.35" y2="814.45" stroke="#c41230" stroke-width="3.1" stroke-dasharray="2.5 12.665"/>
<line x1="799.25" y1="873.15" x2="1420.51" y2="873.15" stroke="#14284b" stroke-width="3.7" stroke-dasharray="3.7 12.135"/>
<line x1="589.61" y1="931.45" x2="1426.18" y2="931.45" stroke="#c41230" stroke-width="3.1" stroke-dasharray="2.5 12.665"/>
<line x1="483.45" y1="989.45" x2="1426.18" y2="989.45" stroke="#c41230" stroke-width="3.1" stroke-dasharray="2.5 12.665"/>
<line x1="1084.28" y1="1048.15" x2="1420.51" y2="1048.15" stroke="#14284b" stroke-width="3.7" stroke-dasharray="3.7 12.135"/>
<line x1="688.40" y1="1106.15" x2="1420.51" y2="1106.15" stroke="#14284b" stroke-width="3.7" stroke-dasharray="3.7 12.135"/>
<line x1="422.79" y1="1164.45" x2="1426.18" y2="1164.45" stroke="#c41230" stroke-width="3.1" stroke-dasharray="2.5 12.665"/>
<line x1="938.40" y1="1223.45" x2="1426.18" y2="1223.45" stroke="#c41230" stroke-width="3.1" stroke-dasharray="2.5 12.665"/>
<line x1="574.44" y1="1281.45" x2="1426.18" y2="1281.45" stroke="#c41230" stroke-width="3.1" stroke-dasharray="2.5 12.665"/>
<line x1="650.27" y1="1339.45" x2="1426.18" y2="1339.45" stroke="#c41230" stroke-width="3.1" stroke-dasharray="2.5 12.665"/>
<line x1="437.96" y1="1398.45" x2="1426.18" y2="1398.45" stroke="#c41230" stroke-width="3.1" stroke-dasharray="2.5 12.665"/>
<line x1="604.77" y1="1456.45" x2="1426.18" y2="1456.45" stroke="#c41230" stroke-width="3.1" stroke-dasharray="2.5 12.665"/>
<line x1="604.77" y1="1514.45" x2="1426.18" y2="1514.45" stroke="#c41230" stroke-width="3.1" stroke-dasharray="2.5 12.665"/>
<line x1="407.63" y1="1573.45" x2="1411.02" y2="1573.45" stroke="#c41230" stroke-width="3.1" stroke-dasharray="2.5 12.665"/>
<line x1="530.05" y1="1631.15" x2="1420.51" y2="1631.15" stroke="#14284b" stroke-width="3.7" stroke-dasharray="3.7 12.135"/>
<line x1="387.54" y1="1689.15" x2="1420.51" y2="1689.15" stroke="#14284b" stroke-width="3.7" stroke-dasharray="3.7 12.135"/>
<line x1="355.87" y1="1748.15" x2="1420.51" y2="1748.15" stroke="#14284b" stroke-width="3.7" stroke-dasharray="3.7 12.135"/>
</svg>
<div class="txt">
<div class="t h" style="left:149.60px;top:151.00px;letter-spacing:0.424px;">FUELS CELLS</div>
<div class="t h" style="left:1452.45px;top:151.00px;letter-spacing:-2.600px;transform:scaleX(0.9504);">51</div>
<div class="t s" style="left:225.16px;top:209.00px;letter-spacing:0.476px;transform:scaleX(1.0400);">Operational Flexibility</div>
<div class="t s" style="left:1455.05px;top:209.00px;letter-spacing:-2.600px;transform:scaleX(0.8461);">51</div>
<div class="t s" style="left:225.16px;top:268.00px;letter-spacing:0.611px;transform:scaleX(1.0400);">Current Development and Applications</div>
<div class="t s" style="left:1447.50px;top:268.00px;letter-spacing:0.563px;">53</div>
<div class="t s" style="left:224.72px;top:326.00px;letter-spacing:0.717px;transform:scaleX(1.0400);">Impact</div>
<div class="t s" style="left:1445.09px;top:326.00px;letter-spacing:1.500px;transform:scaleX(1.0142);">54</div>
<div class="t s" style="left:225.16px;top:384.00px;letter-spacing:-0.155px;transform:scaleX(1.0400);">Challenges</div>
<div class="t s" style="left:1446.29px;top:384.00px;letter-spacing:1.500px;transform:scaleX(1.0083);">56</div>
<div class="t h" style="left:149.90px;top:442.00px;letter-spacing:-0.233px;">DC SYSTEMS</div>
<div class="t h" style="left:1448.80px;top:442.00px;letter-spacing:-0.347px;">57</div>
<div class="t s" style="left:225.16px;top:501.00px;letter-spacing:0.476px;transform:scaleX(1.0400);">Operational Flexibility</div>
<div class="t s" style="left:1449.00px;top:501.00px;letter-spacing:-0.937px;">57</div>
<div class="t s" style="left:225.16px;top:559.00px;letter-spacing:0.571px;transform:scaleX(1.0400);">Current Developments and Applications</div>
<div class="t s" style="left:1446.80px;top:559.00px;letter-spacing:1.263px;">59</div>
<div class="t s" style="left:224.72px;top:617.00px;letter-spacing:0.717px;transform:scaleX(1.0400);">Impact</div>
<div class="t s" style="left:1446.80px;top:617.00px;letter-spacing:1.263px;">59</div>
<div class="t s" style="left:225.16px;top:676.00px;letter-spacing:-0.155px;transform:scaleX(1.0400);">Challenges</div>
<div class="t s" style="left:1443.51px;top:676.00px;letter-spacing:1.500px;transform:scaleX(1.0936);">60</div>
<div class="t h" style="left:150.60px;top:734.00px;letter-spacing:0.946px;">GLOBAL TRADE AND ITS EFFECT ON DECARBONIZATION OF SHIPPING</div>
<div class="t h" style="left:1452.45px;top:734.00px;letter-spacing:-2.600px;transform:scaleX(0.9504);">61</div>
<div class="t s" style="left:225.16px;top:792.00px;letter-spacing:0.171px;transform:scaleX(1.0400);">Cargo Demand and Fleet Emissions</div>
<div class="t s" style="left:1455.05px;top:792.00px;letter-spacing:-2.600px;transform:scaleX(0.8461);">61</div>
<div class="t h" style="left:151.60px;top:851.00px;letter-spacing:0.676px;">JUST-IN-TIME AND OPTIMUM SHIP ROUTING</div>
<div class="t h" style="left:1445.66px;top:851.00px;letter-spacing:1.500px;transform:scaleX(1.0401);">84</div>
<div class="t s" style="left:226.20px;top:909.00px;letter-spacing:0.106px;transform:scaleX(1.0400);">The Case for JIT Shipping</div>
<div class="t s" style="left:1445.70px;top:909.00px;letter-spacing:1.363px;">84</div>
<div class="t s" style="left:226.20px;top:967.00px;letter-spacing:-0.448px;transform:scaleX(1.0400);">The Case for OSR</div>
<div class="t s" style="left:1447.50px;top:967.00px;letter-spacing:0.563px;">87</div>
<div class="t h" style="left:149.90px;top:1026.00px;letter-spacing:1.194px;">FINDING A COMPANY PATHWAY TOWARDS DECARBONIZATION</div>
<div class="t h" style="left:1443.29px;top:1026.00px;letter-spacing:1.500px;transform:scaleX(1.1137);">90</div>
<div class="t h" style="left:149.90px;top:1084.00px;letter-spacing:0.290px;">DESIGN STUDY OF FUTURE VESSELS</div>
<div class="t h" style="left:1445.56px;top:1084.00px;letter-spacing:1.500px;transform:scaleX(1.0433);">93</div>
<div class="t s" style="left:225.16px;top:1142.00px;letter-spacing:-0.066px;transform:scaleX(1.0400);">Ship Designs</div>
<div class="t s" style="left:1444.26px;top:1142.00px;letter-spacing:1.500px;transform:scaleX(1.0387);">94</div>
<div class="t s" style="left:224.72px;top:1201.00px;letter-spacing:0.345px;transform:scaleX(1.0400);">Preliminary Assessment of Ammonia Fueled Ships</div>
<div class="t s" style="left:1445.57px;top:1201.00px;letter-spacing:1.500px;transform:scaleX(1.0304);">95</div>
<div class="t s" style="left:226.20px;top:1259.00px;letter-spacing:0.003px;transform:scaleX(1.0400);">The 2020 Baseline Ships</div>
<div class="t s" style="left:1445.57px;top:1259.00px;letter-spacing:1.500px;transform:scaleX(1.0304);">95</div>
<div class="t s" style="left:226.20px;top:1317.00px;letter-spacing:0.391px;transform:scaleX(1.0400);">The 2030 Liquid Biofuel Ships</div>
<div class="t s" style="left:1444.95px;top:1317.00px;letter-spacing:1.500px;transform:scaleX(1.0494);">96</div>
<div class="t s" style="left:226.20px;top:1376.00px;letter-spacing:-0.487px;transform:scaleX(1.0400);">The LNG Ships</div>
<div class="t s" style="left:1444.95px;top:1376.00px;letter-spacing:1.500px;transform:scaleX(1.0494);">96</div>
<div class="t s" style="left:226.20px;top:1434.00px;letter-spacing:0.432px;transform:scaleX(1.0400);">The 2030 Ammonia Ships</div>
<div class="t s" style="left:1447.40px;top:1434.00px;letter-spacing:0.663px;">97</div>
<div class="t s" style="left:226.20px;top:1492.00px;letter-spacing:0.305px;transform:scaleX(1.0400);">The 2030 Hydrogen Ships</div>
<div class="t s" style="left:1444.95px;top:1492.00px;letter-spacing:1.500px;transform:scaleX(1.0494);">99</div>
<div class="t s" style="left:225.16px;top:1551.00px;letter-spacing:0.015px;transform:scaleX(1.0400);">Conclusions</div>
<div class="t s" style="left:1429.70px;top:1551.00px;letter-spacing:1.119px;">100</div>
<div class="t h" style="left:150.60px;top:1609.00px;letter-spacing:0.688px;">OUTLOOK CONCLUSIONS</div>
<div class="t h" style="left:1437.20px;top:1609.00px;letter-spacing:-2.241px;">101</div>
<div class="t h" style="left:151.60px;top:1667.00px;letter-spacing:0.720px;">ABS ACTIVITIES</div>
<div class="t h" style="left:1431.20px;top:1667.00px;letter-spacing:0.759px;">102</div>
<div class="t h" style="left:149.90px;top:1726.00px;letter-spacing:-0.126px;">REFERENCES</div>
<div class="t h" style="left:1431.20px;top:1726.00px;letter-spacing:0.759px;">103</div>
<div class="t ah" style="left:151.60px;top:1813.00px;letter-spacing:1.866px;">ACKNOWLEDGMENT</div>
<div class="t ak" style="left:150.60px;top:1847.00px;letter-spacing:0.846px;">This publication was prepared by a group of technical contributors including: Georgios Plevrakis, Sotirios</div>
<div class="t ak" style="left:152.60px;top:1880.00px;letter-spacing:0.637px;">Mamalis, Lefteris Karaminas, Evon Li, Domenic Carlucci, Gareth Burton, Modesto Lezama, Nikolaos</div>
<div class="t ak" style="left:152.60px;top:1913.00px;letter-spacing:0.957px;">Lamprinidis, Dafni Sofiadi, Antony Vourdachas. and Russ Barling in collaboration with Maritime Strategies</div>
<div class="t ak" style="left:152.60px;top:1947.00px;letter-spacing:0.980px;">International and Herbert Engineering.</div>
<div class="t dc" style="left:151.60px;top:2023.00px;letter-spacing:1.021px;">WHILE ABS USES REASONABLE EFFORTS TO ACCURATELY DESCRIBE AND UPDATE THE INFORMATION IN THIS PUBLICATION, ABS MAKES NO WARRANTIES</div>
<div class="t dc" style="left:151.60px;top:2048.00px;letter-spacing:0.893px;">OR REPRESENTATIONS AS TO ITS ACCURACY, CURRENCY OR COMPLETENESS. ABS ASSUMES NO LIABILITY OR RESPONSIBILITY FOR ANY ERRORS OR</div>
<div class="t dc" style="left:151.60px;top:2073.00px;letter-spacing:0.925px;">OMISSIONS IN THE CONTENT OF THIS PUBLICATION. TO THE EXTENT PERMITTED BY APPLICABLE LAW, EVERYTHING IN THIS PUBLICATION IS PROVIDED</div>
<div class="t dc" style="left:151.60px;top:2098.00px;letter-spacing:0.945px;">WITHOUT WARRANTY OF ANY KIND, EITHER EXPRESS OR IMPLIED, INCLUDING, BUT NOT LIMITED TO, THE IMPLIED WARRANTIES OF MERCHANTABILITY,</div>
<div class="t dc" style="left:150.60px;top:2123.00px;letter-spacing:1.047px;">FITNESS FOR A PARTICULAR PURPOSE, OR NON-INFRINGEMENT. IN NO EVENT WILL ABS BE LIABLE FOR ANY DAMAGES WHATSOEVER, INCLUDING</div>
<div class="t dc" style="left:151.60px;top:2148.00px;letter-spacing:0.877px;">SPECIAL, INDIRECT, CONSEQUENTIAL OR INCIDENTAL DAMAGES OR DAMAGES FOR LOSS OF PROFITS, REVENUE, OR USE, WHETHER BROUGHT IN</div>
<div class="t dc" style="left:151.60px;top:2173.00px;letter-spacing:1.029px;">CONTRACT OR TORT, ARISING OUT OF OR CONNECTED WITH THIS PUBLICATION OR THE USE OR RELIANCE UPON ANY OF THE CONTENT OR ANY</div>
<div class="t dc" style="left:150.60px;top:2198.00px;letter-spacing:1.068px;">INFORMATION CONTAINED HEREIN.</div>
</div>
</body></html>
